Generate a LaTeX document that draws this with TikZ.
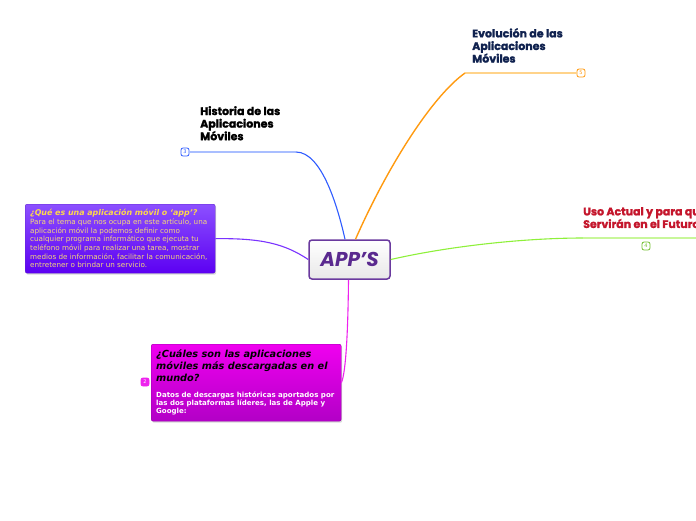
\documentclass[tikz,border=0pt]{standalone}
\usepackage{fontspec}
\setmainfont{DejaVu Sans}
\newfontfamily\headfont[BoldFeatures={FakeBold=1.6}]{Poppins}
\usepackage{tikz}
\usetikzlibrary{positioning, shadows}
\definecolor{appInk}{HTML}{5A2A8F}
\definecolor{appEdge}{HTML}{6A3A9E}
\definecolor{histBlue}{HTML}{2E5BFF}
\definecolor{histPale}{HTML}{A9BEFF}
\definecolor{evoOrange}{HTML}{FF9A10}
\definecolor{evoPale}{HTML}{FFD38A}
\definecolor{evoNavy}{HTML}{10224F}
\definecolor{usoGreen}{HTML}{8EF03A}
\definecolor{usoPale}{HTML}{C8F79A}
\definecolor{usoRed}{HTML}{C4162C}
\definecolor{defViolet}{HTML}{7A33FF}
\definecolor{defTop}{HTML}{8C50FF}
\definecolor{defBottom}{HTML}{5C00F2}
\definecolor{defYellow}{HTML}{FFD84A}
\definecolor{defBody}{HTML}{F4D77A}
\definecolor{qMagenta}{HTML}{EE22EE}
\definecolor{qTop}{HTML}{F000F0}
\definecolor{qBottom}{HTML}{B200C6}

\begin{document}
\begin{tikzpicture}[
  x=1pt, y=-1pt,
  centre/.style={draw=appEdge, line width=1.5pt, rounded corners=3pt, top color=white, bottom color=black!9,
    minimum width=81pt, minimum height=39pt, inner sep=0pt, text=appInk,
    font=\headfont\bfseries\itshape\fontsize{20}{21}\selectfont},
  head/.style={anchor=north west, align=left, inner sep=0pt, font=\headfont\bfseries\fontsize{11}{12.6}\selectfont},
  card/.style={anchor=north west, rounded corners=2pt, text width=180pt, inner xsep=5pt, inner ysep=4pt,
    align=flush left, drop shadow={opacity=0.3, shadow xshift=1pt, shadow yshift=-1.5pt}},
  badge/.style={draw=#1, fill=white, text=#1, rounded corners=2pt, line width=0.8pt, minimum size=8pt,
    inner sep=0pt, font=\fontsize{5}{5}\selectfont},
  link/.style={line width=1.1pt}
]
  \useasboundingbox (0,0) rectangle (696,520);
  \clip (0,0) rectangle (696,520);

  % centre topic
  \node[centre] at (349.5,259.5) (app) {APP’S};

  % headings round the centre
  \node[head, text=black]   at (200,106) (hist) {Historia de las\\Aplicaciones\\Móviles};
  \node[head, text=evoNavy] at (472,28)  (evo)  {Evolución de las\\Aplicaciones\\Móviles};
  \node[head, text=usoRed]  at (583,206) (uso)  {Uso Actual y para qué\\Servirán en el Futuro};

  % cards on the left
  \node[card, top color=defTop, bottom color=defBottom, draw=defViolet!80!black, minimum height=69pt]
    at (25,204) (defn) {{\bfseries\itshape\fontsize{7.9}{9.6}\selectfont\color{defYellow}¿Qué es una aplicación móvil o ‘app’?\par}
    \fontsize{7.2}{8.7}\selectfont\color{defBody}Para el tema que nos ocupa en este artículo, una\\
    aplicación móvil la podemos definir como\\
    cualquier programa informático que ejecuta tu\\
    teléfono móvil para realizar una tarea, mostrar\\
    medios de información, facilitar la comunicación,\\
    entretener o brindar un servicio.\par};
  \node[card, top color=qTop, bottom color=qBottom, draw=qBottom!85!black, minimum height=77pt]
    at (151,344) (qbox) {{\bfseries\itshape\fontsize{9.75}{11.6}\selectfont\color{black}¿Cuáles son las aplicaciones\\
    móviles más descargadas en el\\
    mundo?\par}\vspace{8pt}
    \bfseries\fontsize{7.05}{8.2}\selectfont\color{white}Datos de descargas históricas aportados por\\
    las dos plataformas líderes, las de Apple y\\
    Google:\par};

  % number badges
  \node[badge=histBlue]  at (185,152) (b3) {3};
  \node[badge=evoOrange] at (581,73)  (b5) {5};
  \node[badge=usoGreen!80!black] at (646,246) (b4) {4};
  \node[badge=qMagenta, fill=qMagenta, text=white] at (145,382) (b2) {2};

  \coordinate (histend) at (296,152);
  \coordinate (evoend)  at (465,73);
  \coordinate (usoend)  at (583,238);
  \coordinate (usoout)  at (700,238);

  \draw[link, histPale] (b3.east) -- (histend);
  \draw[link, histBlue] (histend) .. controls (322,152) and (338,208) .. ([xshift=-4.5pt]app.north);
  \draw[link, evoPale] (evoend) -- (b5.west);
  \draw[link, evoOrange, line width=1.4pt] ([xshift=6pt]app.north) .. controls (385,172) and (430,98) .. (evoend);
  \draw[link, usoGreen] (app.east) .. controls (450,246) and (525,238) .. (usoend);
  \draw[link, usoPale] (usoend) -- (usoout);
  \draw[link, defViolet] (defn.east) .. controls (262,238) and (285,244) .. (app.west);
  \draw[link, qMagenta] ([xshift=-1pt]app.south) .. controls (348,330) and (346,372) .. (qbox.east);
\end{tikzpicture}
\end{document}
